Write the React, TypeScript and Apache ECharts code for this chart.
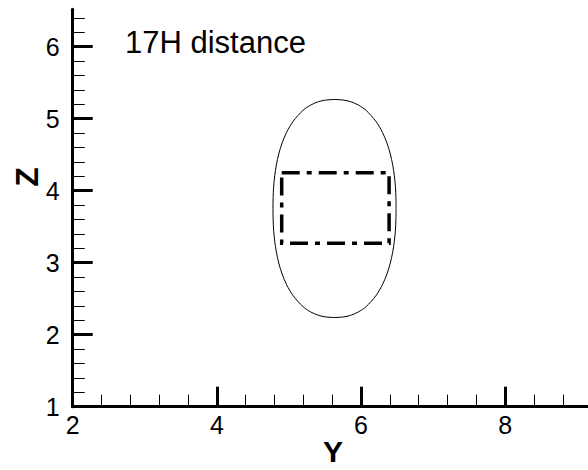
import React, { useEffect, useRef } from "react";
import * as echarts from "echarts";

// Horizontal axis (Y) ticks
const yMajorTicks = [2, 4, 6, 8];
const yMinorTicks = [2.4, 2.8, 3.2, 3.6, 4.4, 4.8, 5.2, 5.6, 6.4, 6.8, 7.2, 7.6, 8.4, 8.8];

// Vertical axis (Z) ticks
const zMajorTicks = [1, 2, 3, 4, 5, 6];
const zMinorTicks = [
  1.2, 1.4, 1.6, 1.8, 2.2, 2.4, 2.6, 2.8, 3.2, 3.4, 3.6, 3.8,
  4.2, 4.4, 4.6, 4.8, 5.2, 5.4, 5.6, 5.8, 6.2, 6.4,
];

// Closed contour (Y, Z) traced counter-clockwise from its right-most point
const contourY = [
  6.487, 6.485, 6.478, 6.463, 6.44, 6.407, 6.361, 6.297, 6.207, 6.071, 5.962, 5.856, 5.755, 5.633,
  5.511, 5.41, 5.304, 5.195, 5.059, 4.969, 4.905, 4.859, 4.826, 4.803, 4.788, 4.781, 4.779,
  4.781, 4.788, 4.803, 4.826, 4.859, 4.905, 4.969, 5.059, 5.195, 5.304, 5.41, 5.511, 5.633,
  5.755, 5.856, 5.962, 6.071, 6.207, 6.297, 6.361, 6.407, 6.44, 6.463, 6.478, 6.485, 6.487,
];
const contourZ = [
  3.753, 3.904, 4.056, 4.207, 4.359, 4.51, 4.661, 4.813, 4.964, 5.116, 5.191, 5.237, 5.259, 5.267,
  5.259, 5.237, 5.191, 5.116, 4.964, 4.813, 4.661, 4.51, 4.359, 4.207, 4.056, 3.904, 3.753,
  3.602, 3.45, 3.299, 3.147, 2.996, 2.845, 2.693, 2.542, 2.39, 2.315, 2.269, 2.247, 2.239,
  2.247, 2.269, 2.315, 2.39, 2.542, 2.693, 2.845, 2.996, 3.147, 3.299, 3.45, 3.602, 3.753,
];

// Dash-dot box (Y, Z)
const boxY = [4.9, 6.39, 6.39, 4.9, 4.9];
const boxZ = [4.25, 4.25, 3.27, 3.27, 4.25];

const FONT = "'Liberation Sans', Arial, Helvetica, sans-serif";

export default function App() {
  const ref = useRef<HTMLDivElement>(null);

  useEffect(() => {
    if (!ref.current) return;
    const chart = echarts.init(ref.current, null, { renderer: "svg" });

    const majorAxis = (min: number, max: number, ticks: number[], margin: number) => ({
      type: "value",
      min,
      max,
      axisLine: { show: true, onZero: false, lineStyle: { color: "#000", width: 3 } },
      axisTick: {
        show: true,
        inside: true,
        length: 20,
        customValues: ticks,
        lineStyle: { color: "#000", width: 3 },
      },
      axisLabel: {
        show: true,
        customValues: ticks,
        margin,
        color: "#000",
        fontSize: 25,
        fontFamily: FONT,
      },
      splitLine: { show: false },
    });

    const minorAxis = (min: number, max: number, ticks: number[]) => ({
      type: "value",
      min,
      max,
      axisLine: { show: false },
      axisTick: {
        show: true,
        inside: true,
        length: 12,
        customValues: ticks,
        lineStyle: { color: "#000", width: 1 },
      },
      axisLabel: { show: false },
      splitLine: { show: false },
    });

    chart.setOption({
      animation: false,
      backgroundColor: "#fff",
      grid: { left: 72.7, right: 0, top: 9.3, bottom: 63.3 },
      xAxis: [
        { ...majorAxis(2, 9.15, yMajorTicks, 6), position: "bottom" },
        { ...minorAxis(2, 9.15, yMinorTicks), position: "bottom" },
      ],
      yAxis: [
        { ...majorAxis(1, 6.52, zMajorTicks, 13), position: "left" },
        { ...minorAxis(1, 6.52, zMinorTicks), position: "left" },
      ],
      series: [
        {
          type: "line",
          xAxisIndex: 0,
          yAxisIndex: 0,
          data: contourY.map((y, i) => [y, contourZ[i]]),
          symbol: "none",
          smooth: 0.3,
          lineStyle: { color: "#000", width: 1 },
        },
        {
          type: "line",
          xAxisIndex: 0,
          yAxisIndex: 0,
          data: boxY.map((y, i) => [y, boxZ[i]]),
          symbol: "none",
          lineStyle: {
            color: "#000",
            width: 3.5,
            type: [18, 7, 5, 7],
            cap: "butt",
            join: "miter",
          },
        },
      ],
      graphic: [
        {
          type: "text",
          left: 125,
          top: 27,
          style: { text: "17H distance", fontSize: 31, fontFamily: FONT, fill: "#000" },
        },
        {
          type: "text",
          x: 333,
          y: 451,
          style: {
            text: "Y",
            fontSize: 30,
            lineHeight: 24,
            fontWeight: "bold",
            fontFamily: FONT,
            fill: "#000",
            align: "center",
            verticalAlign: "middle",
          },
        },
        {
          type: "text",
          x: 26.5,
          y: 177,
          rotation: Math.PI / 2,
          style: {
            text: "Z",
            fontSize: 32,
            fontWeight: "bold",
            fontFamily: FONT,
            fill: "#000",
            align: "center",
            verticalAlign: "middle",
          },
        },
      ],
    });

    return () => chart.dispose();
  }, []);

  return (
    <div
      ref={ref}
      style={{ position: "fixed", left: 0, top: 0, width: 588, height: 470, background: "#fff" }}
    />
  );
}
